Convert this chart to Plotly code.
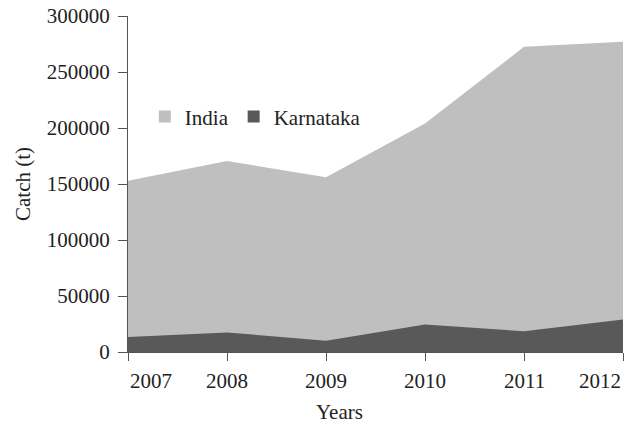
import plotly.graph_objects as go

years = [2007, 2008, 2009, 2010, 2011, 2012]
india = [153000, 170500, 156000, 204000, 272500, 277000]
karnataka = [13500, 17500, 10000, 24500, 18500, 29000]
y_ticks = [0, 50000, 100000, 150000, 200000, 250000, 300000]

c_india = "#bfbfbf"
c_karn = "#595959"
font = "Liberation Serif"
txt = "#222222"

fig = go.Figure()
fig.add_trace(go.Scatter(x=years, y=india, fill="tozeroy", mode="none",
                         fillcolor=c_india, showlegend=False, hoverinfo="skip"))
fig.add_trace(go.Scatter(x=years, y=karnataka, fill="tozeroy", mode="none",
                         fillcolor=c_karn, showlegend=False, hoverinfo="skip"))
# legend entries
fig.add_trace(go.Scatter(x=[None], y=[None], mode="markers", name="India",
                         marker=dict(symbol="square", size=12, color=c_india)))
fig.add_trace(go.Scatter(x=[None], y=[None], mode="markers", name="Karnataka",
                         marker=dict(symbol="square", size=12, color=c_karn)))

annotations = []
for i, yr in enumerate(years):
    anchor = "left" if i == 0 else ("right" if i == len(years) - 1 else "center")
    annotations.append(dict(x=yr, y=0, xref="x", yref="paper", text=str(yr),
                            xanchor=anchor, yanchor="top", yshift=-15, showarrow=False,
                            font=dict(family=font, size=21, color=txt)))
annotations.append(dict(x=0.427, y=0, xref="paper", yref="paper", text="Years",
                        xanchor="center", yanchor="top", yshift=-46, showarrow=False,
                        font=dict(family=font, size=21, color=txt)))

fig.update_layout(
    width=624, height=423,
    margin=dict(l=128, r=1, t=16, b=71),
    paper_bgcolor="white", plot_bgcolor="white",
    font=dict(family=font, size=21, color=txt),
    showlegend=True,
    legend=dict(orientation="h", x=0.034, y=0.70, xanchor="left", yanchor="middle",
                bgcolor="rgba(0,0,0,0)", font=dict(family=font, size=21, color=txt),
                itemwidth=30, traceorder="normal"),
    annotations=annotations,
)
fig.update_xaxes(range=[2007, 2012], tickvals=years, showticklabels=False,
                 ticks="outside", ticklen=8, tickcolor="#555555",
                 showline=True, linecolor="#555555", linewidth=1,
                 showgrid=False, zeroline=False, fixedrange=True)
fig.update_yaxes(range=[0, 300000], tickvals=y_ticks, ticktext=[str(v) for v in y_ticks],
                 ticks="outside", ticklen=9, tickcolor="#555555", ticklabelstandoff=4,
                 showline=True, linecolor="#555555", linewidth=1,
                 showgrid=False, zeroline=False, fixedrange=True,
                 title=dict(text="Catch (t)", font=dict(family=font, size=21, color=txt),
                            standoff=10),
                 tickfont=dict(family=font, size=21, color=txt))

fig.write_html("out.html", config={"displayModeBar": False, "staticPlot": True},
               post_script="document.body.style.margin='0px';document.body.style.overflow='hidden';")
